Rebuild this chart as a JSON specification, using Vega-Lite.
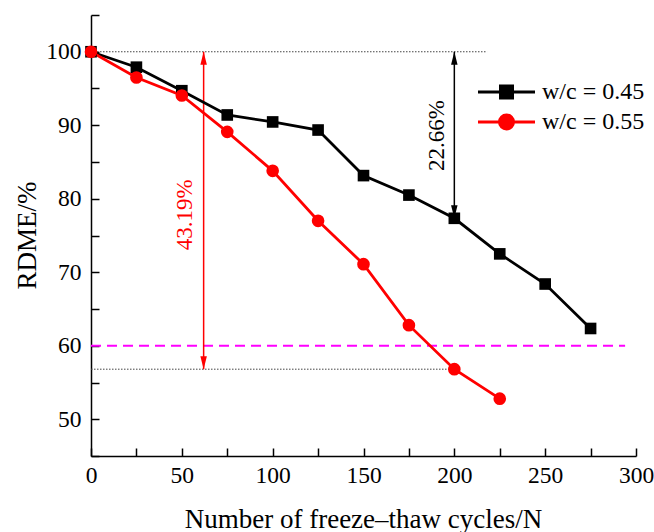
{
  "$schema": "https://vega.github.io/schema/vega-lite/v6.json",
  "width": 545,
  "height": 441,
  "autosize": {"type": "none"},
  "padding": {"left": 91, "top": 15, "right": 18, "bottom": 76},
  "config": {"view": {"stroke": null}, "font": "Liberation Serif"},
  "datasets": {
    "series": [
      {"N": 0, "RDME": 100, "wc": "w/c = 0.45"},
      {"N": 25, "RDME": 97.9, "wc": "w/c = 0.45"},
      {"N": 50, "RDME": 94.7, "wc": "w/c = 0.45"},
      {"N": 75, "RDME": 91.4, "wc": "w/c = 0.45"},
      {"N": 100, "RDME": 90.45, "wc": "w/c = 0.45"},
      {"N": 125, "RDME": 89.35, "wc": "w/c = 0.45"},
      {"N": 150, "RDME": 83.15, "wc": "w/c = 0.45"},
      {"N": 175, "RDME": 80.5, "wc": "w/c = 0.45"},
      {"N": 200, "RDME": 77.34, "wc": "w/c = 0.45"},
      {"N": 225, "RDME": 72.5, "wc": "w/c = 0.45"},
      {"N": 250, "RDME": 68.4, "wc": "w/c = 0.45"},
      {"N": 275, "RDME": 62.35, "wc": "w/c = 0.45"},
      {"N": 0, "RDME": 100, "wc": "w/c = 0.55"},
      {"N": 25, "RDME": 96.5, "wc": "w/c = 0.55"},
      {"N": 50, "RDME": 94.05, "wc": "w/c = 0.55"},
      {"N": 75, "RDME": 89.1, "wc": "w/c = 0.55"},
      {"N": 100, "RDME": 83.8, "wc": "w/c = 0.55"},
      {"N": 125, "RDME": 77.0, "wc": "w/c = 0.55"},
      {"N": 150, "RDME": 71.1, "wc": "w/c = 0.55"},
      {"N": 175, "RDME": 62.8, "wc": "w/c = 0.55"},
      {"N": 200, "RDME": 56.81, "wc": "w/c = 0.55"},
      {"N": 225, "RDME": 52.8, "wc": "w/c = 0.55"}
    ]
  },
  "encoding": {
    "x": {
      "field": "N", "type": "quantitative",
      "scale": {"domain": [0, 300], "nice": false, "zero": false},
      "axis": {
        "title": "Number of freeze\u2013thaw cycles/N",
        "values": [0, 25, 50, 75, 100, 125, 150, 175, 200, 225, 250, 275, 300],
        "labelExpr": "datum.value % 50 === 0 ? datum.label : ''",
        "labelFlush": false, "labelOverlap": false, "labelBound": false,
        "grid": false,
        "domainColor": "black", "domainWidth": 1.5,
        "tickColor": "black", "tickWidth": 1.5, "tickSize": -8,
        "labelPadding": 15, "labelFontSize": 23.5, "labelColor": "black", "labelFont": "Liberation Serif",
        "titleFontSize": 27, "titleFontWeight": "normal", "titleColor": "black", "titleFont": "Liberation Serif",
        "titleX": 272, "titleY": 71, "titleAlign": "center", "titleBaseline": "alphabetic",
        "encode": {"ticks": {"update": {"y2": {"signal": "datum.value % 50 === 0 ? -8 : -5"}}}}
      }
    },
    "y": {
      "field": "RDME", "type": "quantitative",
      "scale": {"domain": [45, 105], "nice": false, "zero": false},
      "axis": {
        "title": "RDME/%",
        "values": [45, 50, 55, 60, 65, 70, 75, 80, 85, 90, 95, 100, 105],
        "labelExpr": "datum.value % 10 === 0 ? datum.label : ''",
        "labelFlush": false, "labelOverlap": false, "labelBound": false,
        "grid": false,
        "domainColor": "black", "domainWidth": 1.5,
        "tickColor": "black", "tickWidth": 1.5, "tickSize": -8,
        "labelPadding": 18, "labelFontSize": 23.5, "labelColor": "black", "labelFont": "Liberation Serif",
        "titleFontSize": 27, "titleFontWeight": "normal", "titleColor": "black", "titleFont": "Liberation Serif",
        "titleAngle": 270, "titleX": -56, "titleY": 220, "titleAlign": "center", "titleBaseline": "alphabetic",
        "encode": {"ticks": {"update": {"x2": {"signal": "datum.value % 10 === 0 ? 8 : 5"}}}}
      }
    }
  },
  "layer": [
    {
      "data": {"values": [{"N": 0, "N2": 294, "RDME": 60}]},
      "mark": {"type": "rule", "color": "#ff00ff", "strokeWidth": 2, "strokeDash": [10, 6]},
      "encoding": {"x2": {"field": "N2"}}
    },
    {
      "data": {"values": [{"N": 0, "N2": 218, "RDME": 100}, {"N": 0, "N2": 200, "RDME": 56.81}]},
      "mark": {"type": "rule", "color": "#444444", "strokeWidth": 1, "strokeDash": [1.5, 1.5]},
      "encoding": {"x2": {"field": "N2"}}
    },
    {
      "data": {"values": [{"N": 62, "RDME": 56.81, "RDME2": 100}]},
      "mark": {"type": "rule", "color": "#ff0000", "strokeWidth": 1.5},
      "encoding": {"y2": {"field": "RDME2"}}
    },
    {
      "data": {"values": [{"N": 200, "RDME": 77.34, "RDME2": 100}]},
      "mark": {"type": "rule", "color": "#000000", "strokeWidth": 1.5},
      "encoding": {"y2": {"field": "RDME2"}}
    },
    {
      "data": {"values": [{"N": 62, "RDME": 100}]},
      "mark": {"type": "point", "shape": "M0,0L-0.25,1L0.25,1Z", "size": 676, "filled": true, "color": "#ff0000", "opacity": 1}
    },
    {
      "data": {"values": [{"N": 62, "RDME": 56.81}]},
      "mark": {"type": "point", "shape": "M0,0L-0.25,-1L0.25,-1Z", "size": 676, "filled": true, "color": "#ff0000", "opacity": 1}
    },
    {
      "data": {"values": [{"N": 200, "RDME": 100}]},
      "mark": {"type": "point", "shape": "M0,0L-0.25,1L0.25,1Z", "size": 676, "filled": true, "color": "#000000", "opacity": 1}
    },
    {
      "data": {"values": [{"N": 200, "RDME": 77.34}]},
      "mark": {"type": "point", "shape": "M0,0L-0.25,-1L0.25,-1Z", "size": 676, "filled": true, "color": "#000000", "opacity": 1}
    },
    {
      "data": {"name": "series"},
      "mark": {"type": "line", "strokeWidth": 2.8},
      "encoding": {
        "color": {
          "field": "wc", "type": "nominal",
          "scale": {"domain": ["w/c = 0.45", "w/c = 0.55"], "range": ["#000000", "#ff0000"]},
          "legend": {
            "orient": "none", "legendX": 403.5, "legendY": 65,
            "title": null, "padding": 0,
            "symbolType": "M-2.85,0H2.85",
            "symbolSize": 400, "symbolStrokeWidth": 3,
            "labelFont": "Liberation Serif", "labelFontSize": 24, "labelColor": "black",
            "labelOffset": 23.5, "rowPadding": 5,
            "encode": {
              "symbols": {
                "update": {
                  "shape": {"signal": "datum.value === 'w/c = 0.45' ? 'M-2.85,0H2.85M-0.6,-0.6H0.6V0.6H-0.6Z' : 'M-2.85,0H2.85M0.7,0A0.7,0.7 0 1,1 -0.7,0A0.7,0.7 0 1,1 0.7,0Z'"},
                  "fill": {"signal": "datum.value === 'w/c = 0.45' ? '#000000' : '#ff0000'"},
                  "stroke": {"signal": "datum.value === 'w/c = 0.45' ? '#000000' : '#ff0000'"},
                  "opacity": {"value": 1}
                }
              }
            }
          }
        }
      }
    },
    {
      "data": {"name": "series"},
      "transform": [{"filter": "datum.wc === 'w/c = 0.45'"}],
      "mark": {"type": "point", "shape": "square", "size": 135, "filled": true, "color": "#000000", "opacity": 1}
    },
    {
      "data": {"name": "series"},
      "transform": [{"filter": "datum.wc === 'w/c = 0.55'"}],
      "mark": {"type": "point", "shape": "circle", "size": 160, "filled": true, "color": "#ff0000", "opacity": 1}
    },
    {
      "data": {"values": [{"N": 51.7, "RDME": 77.8, "t": "43.19%"}]},
      "mark": {"type": "text", "angle": 270, "align": "center", "baseline": "middle", "font": "Liberation Serif", "fontSize": 23, "color": "#ff0000"},
      "encoding": {"text": {"field": "t"}}
    },
    {
      "data": {"values": [{"N": 190.2, "RDME": 88.6, "t": "22.66%"}]},
      "mark": {"type": "text", "angle": 270, "align": "center", "baseline": "middle", "font": "Liberation Serif", "fontSize": 23, "color": "#000000"},
      "encoding": {"text": {"field": "t"}}
    }
  ]
}
